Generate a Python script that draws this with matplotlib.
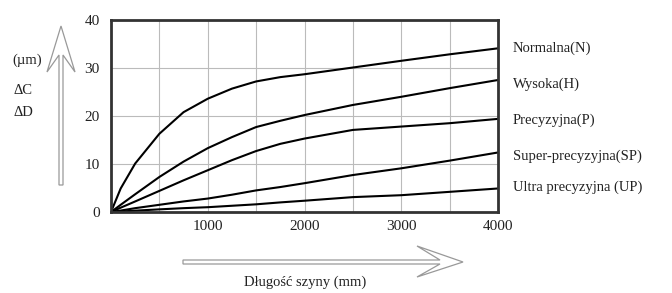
import matplotlib
matplotlib.use("Agg")
import matplotlib.pyplot as plt
from matplotlib.patches import Polygon

plt.rcParams["font.family"] = ["Liberation Serif", "DejaVu Serif"]

# Data (length in mm, deviation in um)
length_mm = [0, 100, 250, 500, 750, 1000, 1250, 1500, 1750, 2000, 2500, 3000, 3500, 4000]
normal = [0, 4.9, 10.1, 16.3, 20.8, 23.6, 25.7, 27.2, 28.1, 28.7, 30.1, 31.5, 32.85, 34.1]
wysoka = [0, 1.5, 3.7, 7.3, 10.5, 13.3, 15.6, 17.7, 19.0, 20.2, 22.3, 24.0, 25.8, 27.5]
precyzyjna = [0, 0.9, 2.2, 4.4, 6.6, 8.7, 10.8, 12.7, 14.2, 15.3, 17.1, 17.8, 18.5, 19.4]
super_prec = [0, 0.3, 0.8, 1.5, 2.2, 2.8, 3.6, 4.5, 5.2, 6.0, 7.7, 9.1, 10.7, 12.4]
ultra_prec = [0, 0.1, 0.28, 0.55, 0.8, 1.0, 1.3, 1.6, 2.0, 2.35, 3.1, 3.5, 4.2, 4.9]

series = [normal, wysoka, precyzyjna, super_prec, ultra_prec]
labels = ["Normalna(N)", "Wysoka(H)", "Precyzyjna(P)",
          "Super-precyzyjna(SP)", "Ultra precyzyjna (UP)"]
label_y = [34.2, 26.7, 19.2, 11.7, 5.2]

x_ticks = [1000, 2000, 3000, 4000]
y_ticks = [0, 10, 20, 30, 40]

W, H = 672, 293
fig = plt.figure(figsize=(W / 100, H / 100), dpi=100)
ax = fig.add_axes([111 / W, 1 - 212 / H, (498 - 111) / W, (212 - 20) / H])

for ys in series:
    ax.plot(length_mm, ys, color="black", lw=1.5, solid_joinstyle="round")

ax.set_xlim(0, 4000)
ax.set_ylim(0, 40)
ax.set_yticks(y_ticks)
ax.grid(True, color="#bbbbbb", lw=0.8)
ax.set_xticks(range(0, 4001, 500))
ax.set_xticklabels(["" if v not in x_ticks else str(v) for v in range(0, 4001, 500)])
ax.tick_params(length=0, labelsize=11, colors="#222222", pad=6)
ax.tick_params(axis="y", pad=8)
for s in ax.spines.values():
    s.set_linewidth(2)
    s.set_color("#333333")

for lab, yy in zip(labels, label_y):
    ax.text(4150, yy, lab, fontsize=10.5, va="center", ha="left",
            color="#222222", clip_on=False)

# hollow arrows drawn in figure pixel coordinates
def fig_poly(pts):
    return [(x / W, 1 - y / H) for x, y in pts]

up_arrow = [(59, 185), (59, 55), (47, 72), (61, 26), (75, 72), (63, 55), (63, 185)]
right_arrow = [(183, 260), (440, 260), (417, 246), (463, 262), (417, 277), (440, 264), (183, 264)]
for pts in (up_arrow, right_arrow):
    fig.add_artist(Polygon(fig_poly(pts), closed=True, fc="white", ec="#999999",
                           lw=0.9, transform=fig.transFigure))

fig.text(12 / W, 1 - 60 / H, "(µm)", fontsize=10.5, va="center", ha="left", color="#222222")
fig.text(14 / W, 1 - 90 / H, "ΔC", fontsize=10.5, va="center", ha="left", color="#222222")
fig.text(14 / W, 1 - 113 / H, "ΔD", fontsize=10.5, va="center", ha="left", color="#222222")
fig.text(305 / W, 1 - 282 / H, "Długość szyny (mm)", fontsize=10.5, va="center",
         ha="center", color="#222222")

fig.savefig("out.png", dpi=100)
